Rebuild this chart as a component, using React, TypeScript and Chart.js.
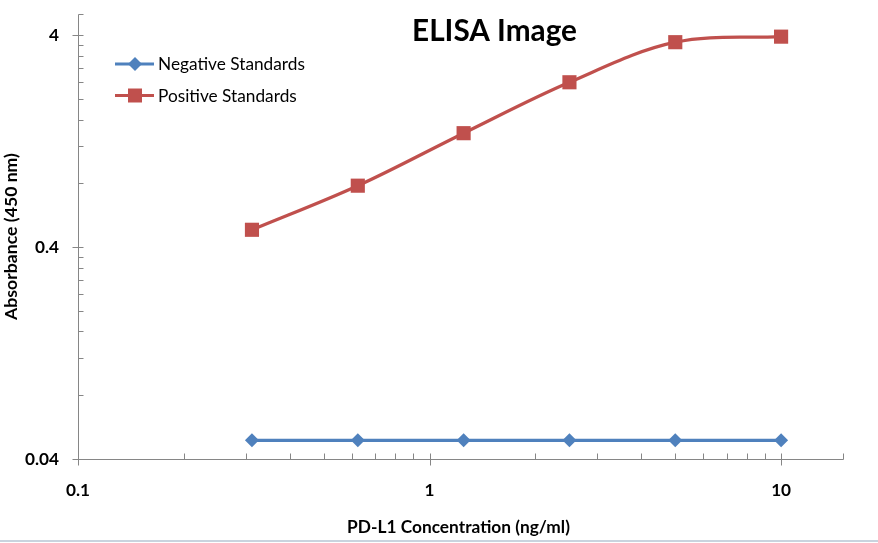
import React, { useEffect, useRef } from 'react';
import { Chart, registerables } from 'chart.js';

Chart.register(...registerables);

// ---- Data ----
const concentrations = [0.3125, 0.625, 1.25, 2.5, 5, 10];
const negativeValues = [0.049, 0.049, 0.049, 0.049, 0.049, 0.049];
const positiveValues = [0.483, 0.78, 1.38, 2.4, 3.71, 3.94];
const seriesNames = ['Negative Standards', 'Positive Standards'];
const xTickValues = [0.1, 1, 10];
const xTickLabels = ['0.1', '1', '10'];
const yTickValues = [0.04, 0.4, 4];
const yTickLabels = ['0.04', '0.4', '4'];
const chartTitle = 'ELISA Image';
const xAxisTitle = 'PD-L1 Concentration (ng/ml)';
const yAxisTitle = 'Absorbance (450 nm)';

const X_MIN = 0.1;
const X_MAX = 15;
const Y_MIN = 0.04;
const Y_MAX = 5.04;

const RED = '#C0504D';
const BLUE = '#4F81BD';
const AXIS = '#868686';
const FAMILY = 'Lato, "Open Sans", sans-serif';

function fitSize(ctx: CanvasRenderingContext2D, text: string, weight: string, target: number) {
  ctx.font = `${weight} 100px ${FAMILY}`;
  const w = ctx.measureText(text).width;
  return (100 * target) / w;
}

const decorPlugin = {
  id: 'decor',
  beforeDatasetsDraw(chart: any) {
    const ctx: CanvasRenderingContext2D = chart.ctx;
    const xs = chart.scales.x;
    const ys = chart.scales.y;
    const left = Math.round(xs.getPixelForValue(X_MIN)) + 0.5;
    const right = Math.round(xs.getPixelForValue(X_MAX)) + 0.5;
    const bottom = Math.round(ys.getPixelForValue(Y_MIN)) + 0.5;
    const top = Math.round(ys.getPixelForValue(Y_MAX)) + 0.5;
    ctx.save();
    ctx.strokeStyle = AXIS;
    ctx.lineWidth = 1;
    ctx.beginPath();
    ctx.moveTo(left, top);
    ctx.lineTo(left, bottom);
    ctx.lineTo(right, bottom);
    // y ticks
    const yMinor: number[] = [];
    for (let d = Y_MIN; d < Y_MAX; d *= 10) {
      for (let k = 2; k <= 9; k++) {
        const v = d * k;
        if (v < Y_MAX * 0.999) yMinor.push(v);
      }
    }
    yMinor.push(Y_MAX);
    yMinor.forEach((v) => {
      const p = Math.round(ys.getPixelForValue(v)) + 0.5;
      ctx.moveTo(left, p);
      ctx.lineTo(left + 5, p);
    });
    yTickValues.forEach((v) => {
      const p = Math.round(ys.getPixelForValue(v)) + 0.5;
      ctx.moveTo(left - 6, p);
      ctx.lineTo(left + 5, p);
    });
    // x ticks
    const xMinor: number[] = [];
    for (let d = X_MIN; d < X_MAX; d *= 10) {
      for (let k = 2; k <= 9; k++) {
        const v = d * k;
        if (v < X_MAX * 0.999) xMinor.push(v);
      }
    }
    xMinor.push(X_MAX);
    xMinor.forEach((v) => {
      const p = Math.round(xs.getPixelForValue(v)) + 0.5;
      ctx.moveTo(p, bottom);
      ctx.lineTo(p, bottom - 6);
    });
    xTickValues.forEach((v) => {
      const p = Math.round(xs.getPixelForValue(v)) + 0.5;
      ctx.moveTo(p, bottom + 6);
      ctx.lineTo(p, bottom - 6);
    });
    ctx.stroke();
    ctx.restore();
  },
  afterDraw(chart: any) {
    const ctx: CanvasRenderingContext2D = chart.ctx;
    const xs = chart.scales.x;
    const ys = chart.scales.y;
    ctx.save();
    ctx.fillStyle = '#000';
    ctx.textBaseline = 'alphabetic';

    // y tick labels
    const ySize = fitSize(ctx, '0.04', 'bold', 34);
    ctx.font = `bold ${ySize}px ${FAMILY}`;
    ctx.textAlign = 'right';
    yTickValues.forEach((v, i) => {
      ctx.fillText(yTickLabels[i], 59, ys.getPixelForValue(v) + 6);
    });

    // x tick labels
    ctx.textAlign = 'center';
    xTickValues.forEach((v, i) => {
      ctx.fillText(xTickLabels[i], xs.getPixelForValue(v), 496);
    });

    // x axis title
    const xtSize = fitSize(ctx, xAxisTitle, 'bold', 223);
    ctx.font = `bold ${xtSize}px ${FAMILY}`;
    ctx.textAlign = 'center';
    ctx.fillText(xAxisTitle, 458.5, 533);

    // y axis title
    const ytSize = fitSize(ctx, yAxisTitle, 'bold', 167);
    ctx.save();
    ctx.translate(17, 236.5);
    ctx.rotate(-Math.PI / 2);
    ctx.font = `bold ${ytSize}px ${FAMILY}`;
    ctx.textAlign = 'center';
    ctx.fillText(yAxisTitle, 0, 0);
    ctx.restore();

    // chart title
    const tSize = fitSize(ctx, chartTitle, 'bold', 165);
    ctx.font = `bold ${tSize}px ${FAMILY}`;
    ctx.textAlign = 'center';
    ctx.fillText(chartTitle, 494.5, 41);

    // legend
    const lSize = fitSize(ctx, seriesNames[0], 'normal', 147);
    ctx.font = `normal ${lSize}px ${FAMILY}`;
    ctx.textAlign = 'left';
    const rows = [
      { y: 64, color: BLUE, name: seriesNames[0], shape: 'diamond' },
      { y: 95.5, color: RED, name: seriesNames[1], shape: 'square' },
    ];
    rows.forEach((r) => {
      ctx.strokeStyle = r.color;
      ctx.lineWidth = 3;
      ctx.beginPath();
      ctx.moveTo(115, r.y);
      ctx.lineTo(154, r.y);
      ctx.stroke();
      ctx.fillStyle = r.color;
      ctx.beginPath();
      if (r.shape === 'diamond') {
        ctx.moveTo(135, r.y - 7);
        ctx.lineTo(142, r.y);
        ctx.lineTo(135, r.y + 7);
        ctx.lineTo(128, r.y);
      } else {
        ctx.rect(128, r.y - 7, 14, 14);
      }
      ctx.closePath();
      ctx.fill();
      ctx.fillStyle = '#000';
      ctx.fillText(r.name, 158, r.y + 6);
    });

    // bottom border
    ctx.fillStyle = '#C9D3DE';
    ctx.fillRect(0, 540, chart.width, 2);
    ctx.restore();
  },
};

export default function App() {
  const canvasRef = useRef<HTMLCanvasElement | null>(null);

  useEffect(() => {
    const canvas = canvasRef.current;
    if (!canvas) return;
    const chart = new Chart(canvas, {
      type: 'line',
      data: {
        datasets: [
          {
            label: seriesNames[0],
            data: concentrations.map((x, i) => ({ x, y: negativeValues[i] })),
            borderColor: BLUE,
            backgroundColor: BLUE,
            borderWidth: 3.25,
            pointStyle: 'rectRot',
            pointRadius: 7,
            pointBorderWidth: 0,
            tension: 0,
          },
          {
            label: seriesNames[1],
            data: concentrations.map((x, i) => ({ x, y: positiveValues[i] })),
            borderColor: RED,
            backgroundColor: RED,
            borderWidth: 3.25,
            pointStyle: 'rect',
            pointRadius: 10,
            pointBorderWidth: 0,
            tension: 0.35,
          },
        ],
      },
      options: {
        animation: false,
        responsive: false,
        maintainAspectRatio: false,
        layout: { padding: { left: 78, right: 35, top: 14, bottom: 84 } },
        plugins: {
          legend: { display: false },
          title: { display: false },
          tooltip: { enabled: false },
        },
        scales: {
          x: { type: 'logarithmic', min: X_MIN, max: X_MAX, display: false },
          y: { type: 'logarithmic', min: Y_MIN, max: Y_MAX, display: false },
        },
      },
      plugins: [decorPlugin],
    });
    return () => chart.destroy();
  }, []);

  return (
    <div style={{ position: 'absolute', left: 0, top: 0, width: 878, height: 543, background: '#fff' }}>
      <canvas ref={canvasRef} width={878} height={543} style={{ display: 'block' }} />
    </div>
  );
}
